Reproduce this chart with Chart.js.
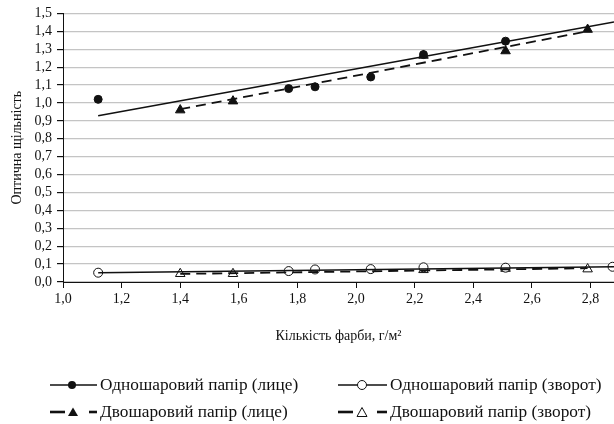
<!DOCTYPE html>
<html>
<head>
<meta charset="utf-8">
<script src="https://cdn.jsdelivr.net/npm/chart.js@4"></script>
<style>
  body { margin: 0; background: #fff; }
  #wrap { position: relative; width: 614px; height: 424px; font-family: "Liberation Serif", serif; }
  .item { position: absolute; height: 20px; display: flex; align-items: center; font-size: 17.3px; color: #111; white-space: nowrap; }
  .item svg { margin-right: 3px; }
</style>
</head>
<body>
<div id="wrap">
  <canvas id="c" width="614" height="424"></canvas>
  <div class="item" style="left:50px; top:375px;">
    <svg width="47" height="12"><line x1="0" y1="6" x2="47" y2="6" stroke="#111" stroke-width="1.6"/><circle cx="22" cy="6" r="4" fill="#111"/></svg>Одношаровий папір (лице)</div>
  <div class="item" style="left:50px; top:402px;">
    <svg width="47" height="12"><line x1="0" y1="6" x2="15" y2="6" stroke="#111" stroke-width="2.6"/><line x1="39" y1="6" x2="47" y2="6" stroke="#111" stroke-width="2.6"/><polygon points="23,1.5 28,10 18,10" fill="#111"/></svg>Двошаровий папір (лице)</div>
  <div class="item" style="left:338px; top:375px;">
    <svg width="49" height="12"><line x1="0" y1="6" x2="49" y2="6" stroke="#111" stroke-width="1.6"/><circle cx="24" cy="6" r="4.5" fill="#fff" stroke="#111" stroke-width="1"/></svg>Одношаровий папір (зворот)</div>
  <div class="item" style="left:338px; top:402px;">
    <svg width="49" height="12"><line x1="0" y1="6" x2="15" y2="6" stroke="#111" stroke-width="2.6"/><line x1="39" y1="6" x2="49" y2="6" stroke="#111" stroke-width="2.6"/><polygon points="24,1.5 29,10.5 19,10.5" fill="#fff" stroke="#111" stroke-width="1"/></svg>Двошаровий папір (зворот)</div>
</div>
<script>
// одношаровий папір
const singleX = [1.12, 1.77, 1.86, 2.05, 2.23, 2.51];
const singleFace = [1.02, 1.08, 1.09, 1.145, 1.27, 1.345];
const singleBackX = [1.12, 1.77, 1.86, 2.05, 2.23, 2.51, 2.875];
const singleBack = [0.052, 0.061, 0.07, 0.072, 0.082, 0.08, 0.085];

// двошаровий папір
const doubleX = [1.40, 1.58, 2.23, 2.51, 2.79];
const doubleFace = [0.96, 1.01, 1.265, 1.29, 1.41];
const doubleBack = [0.046, 0.046, 0.068, 0.075, 0.072];

// лінії тренду (кінцеві точки)
const singleTrendX = [1.12, 2.88];
const singleTrendFace = [0.928, 1.452];
const singleTrendBack = [0.052, 0.085];
const doubleTrendX = [1.40, 2.79];
const doubleTrendFace = [0.965, 1.40];
const doubleTrendBack = [0.045, 0.077];

const xTicks = [1.0, 1.2, 1.4, 1.6, 1.8, 2.0, 2.2, 2.4, 2.6, 2.8];
const yTicks = [0, 0.1, 0.2, 0.3, 0.4, 0.5, 0.6, 0.7, 0.8, 0.9, 1.0, 1.1, 1.2, 1.3, 1.4, 1.5];

function pts(xs, ys) {
  return xs.map((x, i) => ({ x: x, y: ys[i] }));
}

function trend(xs, ys, dash) {
  return {
    type: "line",
    data: pts(xs, ys),
    borderColor: "#111",
    borderWidth: dash ? 1.8 : 1.6,
    borderDash: dash ? [10, 6] : [],
    pointRadius: 0,
    fill: false,
  };
}

function marks(xs, ys, style, filled, r) {
  return {
    type: "scatter",
    data: pts(xs, ys),
    pointStyle: style,
    pointRadius: r,
    pointBackgroundColor: filled ? "#111" : "#fff",
    pointBorderColor: "#111",
    pointBorderWidth: 1,
    showLine: false,
  };
}

const comma = (v) => v.toFixed(1).replace(".", ",");
const font = { family: "'Liberation Serif', serif", size: 14 };

new Chart(document.getElementById("c"), {
  type: "scatter",
  data: {
    datasets: [
      trend(singleTrendX, singleTrendBack, false),
      trend(doubleTrendX, doubleTrendBack, true),
      trend(singleTrendX, singleTrendFace, false),
      trend(doubleTrendX, doubleTrendFace, true),
      marks(singleBackX, singleBack, "circle", false, 4.5),
      marks(doubleX, doubleBack, "triangle", false, 5.5),
      marks(singleX, singleFace, "circle", true, 4),
      marks(doubleX, doubleFace, "triangle", true, 5.5),
    ],
  },
  options: {
    responsive: false,
    animation: false,
    layout: { autoPadding: false, padding: { left: 0, top: 12, right: 0, bottom: 72 } },
    plugins: { legend: { display: false }, tooltip: { enabled: false } },
    scales: {
      x: {
        type: "linear",
        min: 1.0,
        max: 2.88,
        afterBuildTicks: (s) => { s.ticks = xTicks.map((v) => ({ value: v })); },
        afterFit: (s) => { s.height = 70; s.paddingRight = 0; s.paddingLeft = 0; },
        grid: { drawOnChartArea: false, drawTicks: true, tickLength: 6, tickColor: "#111" },
        border: { display: true, color: "#111", width: 1 },
        ticks: { color: "#111", font: font, padding: 3, autoSkip: false, maxRotation: 0, callback: (v) => comma(v) },
        title: {
          display: true,
          text: "Кількість фарби, г/м²",
          color: "#111",
          font: font,
          padding: { top: 0, bottom: 7 },
        },
      },
      y: {
        min: 0,
        max: 1.5,
        afterBuildTicks: (s) => { s.ticks = yTicks.map((v) => ({ value: v })); },
        afterFit: (s) => { s.width = 63; },
        grid: { color: "#c4c4c4", lineWidth: 1.2, tickLength: 6, tickColor: "#111" },
        border: { display: true, color: "#111", width: 1 },
        ticks: { color: "#111", font: font, padding: 5, autoSkip: false, callback: (v) => comma(v) },
        title: {
          display: true,
          text: "Оптична щільність",
          color: "#111",
          font: font,
          padding: { top: 9, bottom: 0 },
        },
      },
    },
  },
});
</script>
</body>
</html>
